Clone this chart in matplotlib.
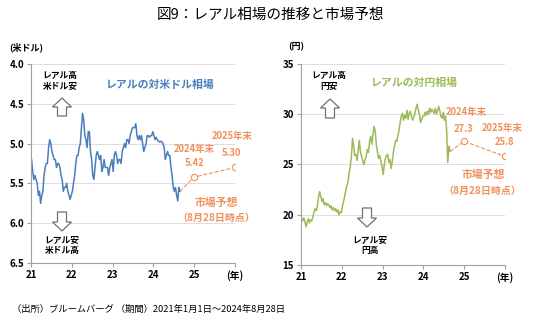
import numpy as np
import matplotlib
matplotlib.use('Agg')
import matplotlib.pyplot as plt
from matplotlib.patches import Polygon

plt.rcParams['font.family'] = ['Noto Sans CJK JP', 'DejaVu Sans']

# レアル/米ドル（旬次の目安、2021年1月～2024年8月）
usd = [5.20, 5.35, 5.45, 5.40, 5.45, 5.50, 5.65, 5.60, 5.75, 5.65, 5.60, 5.40,
       5.30, 5.25, 5.25, 5.05, 4.95, 5.00, 5.10, 5.15, 5.20, 5.20, 5.30, 5.25,
       5.25, 5.30, 5.40, 5.45, 5.60, 5.55, 5.55, 5.50, 5.60, 5.65, 5.70, 5.65,
       5.60, 5.50, 5.40, 5.25, 5.15, 5.15, 5.05, 5.00, 4.80, 4.62, 4.70, 4.90,
       4.95, 5.05, 4.85, 4.85, 5.10, 5.20, 5.40, 5.45, 5.30, 5.15, 5.10, 5.15,
       5.20, 5.15, 5.35, 5.30, 5.20, 5.30, 5.30, 5.30, 5.40, 5.30, 5.25, 5.20,
       5.35, 5.15, 5.10, 5.15, 5.25, 5.20, 5.20, 5.25, 5.10, 5.05, 5.00, 5.05,
       4.95, 4.95, 5.00, 4.90, 4.85, 4.80, 4.80, 4.80, 4.75, 4.90, 4.95, 4.90,
       4.95, 4.90, 5.00, 5.10, 5.05, 5.00, 4.90, 4.90, 4.92, 4.90, 4.90, 4.85,
       4.90, 4.95, 4.92, 4.95, 4.97, 4.98, 4.97, 4.98, 5.00, 5.05, 5.20, 5.15,
       5.10, 5.15, 5.15, 5.30, 5.40, 5.55, 5.60, 5.55, 5.65, 5.72, 5.55, 5.60]

# レアル/円
jpy = [19.6, 19.4, 19.7, 19.3, 18.8, 19.3, 19.6, 19.2, 19.5, 19.4, 19.8, 20.3,
       20.6, 20.4, 20.9, 21.8, 22.3, 21.8, 21.3, 21.6, 21.0, 21.2, 20.9, 21.1,
       21.0, 20.7, 20.9, 20.5, 20.7, 20.4, 20.6, 20.3, 20.5, 20.0, 20.3, 20.2,
       20.8, 21.3, 21.8, 22.4, 22.9, 23.3, 24.2, 24.8, 25.8, 27.6, 26.8, 25.9,
       26.0, 25.4, 26.5, 27.4, 26.2, 25.8, 25.3, 25.0, 25.5, 25.8, 26.5, 26.2,
       27.3, 27.8, 27.0, 28.0, 28.8, 28.3, 27.0, 26.2, 25.6, 25.9, 25.3, 24.8,
       24.0, 25.0, 25.6, 25.9, 26.0, 25.2, 25.5, 24.6, 25.3, 26.2, 26.8, 27.4,
       27.3, 27.9, 28.4, 29.2, 29.8, 30.1, 29.4, 29.9, 29.6, 30.4, 29.5, 30.1,
       30.3, 29.8, 29.4, 29.7, 30.1, 30.6, 31.0, 30.4, 30.0, 29.2, 29.5, 29.8,
       29.8, 30.2, 29.9, 30.3, 30.0, 30.6, 30.2, 30.5, 30.3, 30.1, 30.6, 30.0,
       30.4, 30.8, 30.3, 29.8, 29.6, 30.2, 29.4, 29.8, 28.4, 25.2, 26.8, 26.3]

fc_x = [25, 26]
fc_usd = [5.42, 5.30]
fc_jpy = [27.3, 25.8]
xticks = [21, 22, 23, 24, 25, 26]
xticklabels = ['21', '22', '23', '24', '25', '(年)']

blue = '#4A7EBB'
green = '#9BBB59'
orange = '#F0915A'
gray = '#A0A0A0'

x = 21 + (np.arange(len(usd)) + 0.5) / 36

fig = plt.figure(figsize=(5.4, 3.35), dpi=100)
ax1 = fig.add_axes([31/540, 1 - 263/335, 204/540, 199/335])
ax2 = fig.add_axes([301/540, 1 - 265/335, 204/540, 201/335])


def style(ax):
    for s in ['top', 'right']:
        ax.spines[s].set_visible(False)
    for s in ['left', 'bottom']:
        ax.spines[s].set_color(gray)
        ax.spines[s].set_linewidth(0.8)
    ax.grid(axis='y', color='#DDDDDD', linewidth=0.7)
    ax.set_axisbelow(True)
    ax.set_xlim(21, 26)
    ax.set_xticks(xticks)
    ax.set_xticklabels(xticklabels)
    ax.tick_params(labelsize=7, length=3, color=gray, pad=2)
    for lab in ax.get_xticklabels() + ax.get_yticklabels():
        lab.set_fontweight('bold')


# 左：対米ドル
ax1.plot(x, usd, color=blue, lw=1.1)
ax1.plot([x[-1]] + fc_x, [usd[-1]] + fc_usd, color=orange, ls='--', lw=0.8)
ax1.plot(fc_x, fc_usd, 'o', mfc='white', mec=orange, ms=4.5, mew=0.8)
ax1.set_ylim(6.5, 4.0)
ax1.set_yticks([4.0, 4.5, 5.0, 5.5, 6.0, 6.5])
ax1.set_yticklabels(['4.0', '4.5', '5.0', '5.5', '6.0', '6.5'])
style(ax1)

# 右：対円
ax2.plot(x, jpy, color=green, lw=1.1)
ax2.plot([x[-1]] + fc_x, [jpy[-1]] + fc_jpy, color=orange, ls='--', lw=0.8)
ax2.plot(fc_x, fc_jpy, 'o', mfc='white', mec=orange, ms=4.5, mew=0.8)
ax2.set_ylim(15, 35)
ax2.set_yticks([15, 20, 25, 30, 35])
style(ax2)


def ftext(px, py, s, **kw):
    kw.setdefault('ha', 'center')
    fig.text(px / 540, 1 - py / 335, s, va='center', **kw)


def arrow(cx, tip, tail):
    # 白抜きの矢印（ピクセル座標）
    d = 1 if tail > tip else -1
    hl = 9 * d
    pts = [(cx, tip), (cx + 9.5, tip + hl), (cx + 4.5, tip + hl), (cx + 4.5, tail),
           (cx - 4.5, tail), (cx - 4.5, tip + hl), (cx - 9.5, tip + hl)]
    pts = [(px / 540, 1 - py / 335) for px, py in pts]
    fig.add_artist(Polygon(pts, closed=True, transform=fig.transFigure,
                           fc='white', ec='#707070', lw=0.9))


ftext(270, 15, '図9：レアル相場の推移と市場予想', fontsize=10.5)
ftext(12, 309, '（出所）ブルームバーグ （期間）2021年1月1日～2024年8月28日',
      fontsize=6.7, ha='left')

ftext(9, 47, '(米ドル)', fontsize=6.5, ha='left', fontweight='bold')
ftext(60, 81, 'レアル高\n米ドル安', fontsize=6.3, linespacing=1.4, fontweight='bold')
arrow(62, 98, 116)
arrow(62, 231, 212)
ftext(62, 245, 'レアル安\n米ドル高', fontsize=6.3, linespacing=1.4, fontweight='bold')
ftext(160, 85, 'レアルの対米ドル相場', fontsize=7.8, color=blue, fontweight='bold')
ftext(194, 149, '2024年末', fontsize=6.8, color=orange, fontweight='bold')
ftext(195, 163, '5.42', fontsize=6.8, color=orange, fontweight='bold')
ftext(232, 136, '2025年末', fontsize=6.8, color=orange, fontweight='bold')
ftext(232, 153, '5.30', fontsize=6.8, color=orange, fontweight='bold')
ftext(216, 203, '市場予想', fontsize=7.8, color=orange, fontweight='bold')
ftext(216, 218, '（8月28日時点）', fontsize=7.2, color=orange, fontweight='bold')

ftext(288, 47, '(円)', fontsize=6.5, ha='left', fontweight='bold')
ftext(329, 81, 'レアル高\n円安', fontsize=6.3, linespacing=1.4, fontweight='bold')
arrow(330, 99, 118)
arrow(367, 227, 208)
ftext(370, 245, 'レアル安\n円高', fontsize=6.3, linespacing=1.4, fontweight='bold')
ftext(414, 83, 'レアルの対円相場', fontsize=7.8, color=green, fontweight='bold')
ftext(466, 112, '2024年末', fontsize=6.8, color=orange, fontweight='bold')
ftext(464, 129, '27.3', fontsize=6.8, color=orange, fontweight='bold')
ftext(502, 128, '2025年末', fontsize=6.8, color=orange, fontweight='bold')
ftext(504, 142, '25.8', fontsize=6.8, color=orange, fontweight='bold')
ftext(483, 175, '市場予想', fontsize=7.8, color=orange, fontweight='bold')
ftext(482, 191, '（8月28日時点）', fontsize=7.2, color=orange, fontweight='bold')

fig.savefig('out.png', dpi=100)
